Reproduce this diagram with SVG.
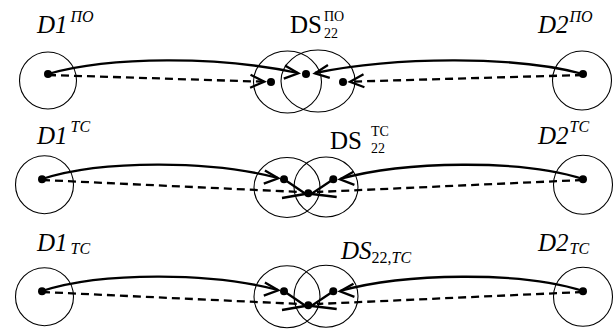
<svg xmlns="http://www.w3.org/2000/svg" width="615" height="331" viewBox="0 0 615 331">
<style>
  .ring{fill:none;stroke:#000;stroke-width:1.1}
  .dot{fill:#000}
  .solid{fill:none;stroke:#000;stroke-width:2.3}
  .dash{fill:none;stroke:#000;stroke-width:2.3;stroke-dasharray:8 5}
  .head{fill:none;stroke:#000;stroke-width:2.3}
  text{font-family:'Liberation Serif','Times New Roman',serif;fill:#000}
  .it{font-size:25px;font-style:italic}
  .up{font-size:25px}
  .si{font-size:16px;font-style:italic}
  .su{font-size:16px;font-style:normal}
  .st{font-size:14px;font-style:normal}
</style>
<defs>
  <path id="chev" class="head" d="M-14,-6.5 L0,0 L-14,6.5"/>
</defs>

<!-- row 1 -->
<g id="d1-po">
  <circle class="ring" cx="48" cy="80.5" r="28.5"/>
  <circle class="dot" cx="48" cy="74" r="4"/>
  <text class="it" x="37" y="33">D1<tspan class="si" dx="3" dy="-11">ПО</tspan></text>
</g>
<g id="ds22-po">
  <ellipse class="ring" cx="287.5" cy="82" rx="34" ry="31"/>
  <ellipse class="ring" cx="318" cy="81" rx="37" ry="31"/>
  <circle class="dot" cx="271" cy="82" r="4"/>
  <circle class="dot" cx="306" cy="74" r="4"/>
  <circle class="dot" cx="343" cy="82" r="4"/>
  <text class="up" x="290" y="33">DS</text>
  <text class="st" x="324" y="21">ПО</text>
  <text class="st" x="324" y="38">22</text>
</g>
<g id="d2-po">
  <circle class="ring" cx="582" cy="80.5" r="29.5"/>
  <circle class="dot" cx="583" cy="74" r="4"/>
  <text class="it" x="538" y="33">D2<tspan class="si" dx="1" dy="-11">ПО</tspan></text>
</g>

<!-- row 2 -->
<g id="d1-tc">
  <circle class="ring" cx="44.5" cy="184.7" r="29"/>
  <circle class="dot" cx="42" cy="179.3" r="4"/>
  <text class="it" x="37" y="144">D1<tspan class="si" dx="3" dy="-12">TC</tspan></text>
</g>
<g id="ds22-tc">
  <ellipse class="ring" cx="287" cy="187.5" rx="33" ry="30"/>
  <ellipse class="ring" cx="326" cy="187" rx="32" ry="30"/>
  <circle class="dot" cx="284" cy="179.3" r="4"/>
  <circle class="dot" cx="308.3" cy="193.3" r="4"/>
  <circle class="dot" cx="333.3" cy="179.3" r="4"/>
  <text class="up" x="330" y="149">DS</text>
  <text class="st" x="371" y="136">TC</text>
  <text class="st" x="371" y="153">22</text>
</g>
<g id="d2-tc">
  <circle class="ring" cx="583" cy="184.7" r="29.5"/>
  <circle class="dot" cx="583" cy="179.3" r="4"/>
  <text class="it" x="538" y="144">D2<tspan class="si" dx="1" dy="-12">TC</tspan></text>
</g>

<!-- row 3 -->
<g id="d1-sub-tc">
  <circle class="ring" cx="44.5" cy="296.7" r="29"/>
  <circle class="dot" cx="42" cy="291.3" r="4"/>
  <text class="it" x="37" y="251">D1<tspan class="si" dx="3" dy="3">TC</tspan></text>
</g>
<g id="ds22-sub-tc">
  <ellipse class="ring" cx="287" cy="296.7" rx="33" ry="31"/>
  <ellipse class="ring" cx="326" cy="296.2" rx="32" ry="31"/>
  <circle class="dot" cx="284" cy="291.3" r="4"/>
  <circle class="dot" cx="308.3" cy="305.3" r="4"/>
  <circle class="dot" cx="333.3" cy="291.3" r="4"/>
  <text class="it" x="341" y="259">DS<tspan class="su" dy="4">22,</tspan><tspan class="si">TC</tspan></text>
</g>
<g id="d2-sub-tc">
  <circle class="ring" cx="583" cy="296.7" r="29.5"/>
  <circle class="dot" cx="583" cy="291.3" r="4"/>
  <text class="it" x="538" y="251">D2<tspan class="si" dx="1" dy="3">TC</tspan></text>
</g>

<!-- connectors -->
<g id="connectors">
  <!-- row 1 -->
  <path class="solid" d="M48,74 C110,56 220,56 298,73"/>
  <use href="#chev" transform="translate(298.3,73.3) rotate(5)"/>
  <path class="dash" d="M48,75 L264,81.7"/>
  <use href="#chev" transform="translate(264.3,81.7) rotate(2)"/>
  <path class="solid" d="M583,74 C516,56 398,56 315,73"/>
  <use href="#chev" transform="translate(315,73.3) rotate(172)"/>
  <path class="dash" d="M583,75 L350,81.7"/>
  <use href="#chev" transform="translate(350,81.7) rotate(176)"/>

  <!-- row 2 -->
  <path class="solid" d="M42,179 C104,159 214,161 278,178"/>
  <use href="#chev" transform="translate(278.3,178.3) rotate(5)"/>
  <path class="dash" d="M42,180 L300,192"/>
  <path class="head" d="M284,179.3 L305,193.5 M282,198 L305,194"/>
  <path class="solid" d="M583,179 C521,159 404,161 340,179"/>
  <use href="#chev" transform="translate(340,179.3) rotate(176)"/>
  <path class="dash" d="M583,180 L317,192"/>
  <path class="head" d="M333.3,179.3 L312,193.5 M336.7,197 L312,194"/>

  <!-- row 3 -->
  <path class="solid" d="M42,291 C104,271 214,273 278,290"/>
  <use href="#chev" transform="translate(278.3,290.3) rotate(5)"/>
  <path class="dash" d="M42,292 L300,304"/>
  <path class="head" d="M284,291.3 L305,305.5 M282,310 L305,306"/>
  <path class="solid" d="M583,291 C521,271 404,273 340,291"/>
  <use href="#chev" transform="translate(340,291.3) rotate(176)"/>
  <path class="dash" d="M583,292 L317,304"/>
  <path class="head" d="M333.3,291.3 L312,305.5 M336.7,309 L312,306"/>
</g>
</svg>
